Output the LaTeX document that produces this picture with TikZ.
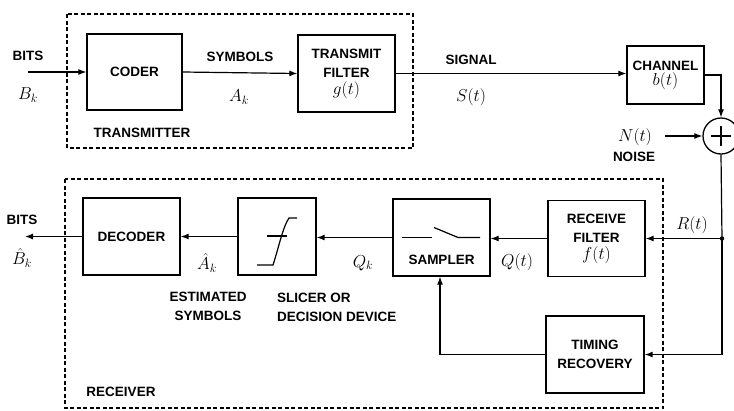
\documentclass[tikz,border=0pt]{standalone}
\usepackage{amsmath}
\usepackage{fontspec}
\newfontfamily\blocksf{Liberation Sans}
\usetikzlibrary{arrows.meta,calc}

\tikzset{
    blk/.style={draw, line width=1.3pt, align=center, inner sep=0pt,
        font=\blocksf\bfseries\fontsize{13.5}{19}\selectfont},
    txt/.style={align=center, inner sep=0pt,
        font=\blocksf\bfseries\fontsize{13.5}{19}\selectfont},
    sym/.style={inner sep=0pt, font=\fontsize{17}{19}\selectfont},
    wire/.style={line width=1.2pt, -{Latex[length=8pt,width=6pt]}},
    grp/.style={line width=1.2pt, dash pattern=on 4pt off 2.5pt},
}

\begin{document}
\begin{tikzpicture}[x=1pt, y=-1pt]
    \useasboundingbox (0,0) rectangle (734,410);

    % Transmitter
    \draw[grp] (67,14) rectangle (413,148);
    \node[blk, minimum width=95pt, minimum height=76pt] (coder) at (134.5,72) {CODER};
    \node[blk, minimum width=97pt, minimum height=77pt] (tf) at (346.5,73.5)
        {TRANSMIT\\FILTER\\[-2pt]{\fontsize{17}{19}\selectfont$g(t)$}};
    \node[txt] (txlbl) at (142,133) {TRANSMITTER};
    \coordinate (bitsin) at (28,72);
    \node[txt] (bitsa) at (28,56) {BITS};
    \node[sym] (bk) at (28,95) {$B_k$};
    \node[txt] (symb) at (240,57) {SYMBOLS};
    \node[sym] (ak) at (239,97) {$A_k$};
    \draw[wire] (bitsin) -- (coder.west);
    \draw[wire] (coder.east) -- (tf.west);

    % Channel and noise
    \node[blk, minimum width=77pt, minimum height=58pt] (chan) at (665.5,75)
        {CHANNEL\\[-4pt]{\fontsize{17}{19}\selectfont$b(t)$}};
    \node[txt] (sig) at (471,60) {SIGNAL};
    \node[sym] (st) at (471,97) {$S(t)$};
    \draw[wire] (tf.east) -- (tf.east -| chan.west);
    \node[draw, circle, line width=1.3pt, minimum size=36pt, inner sep=0pt] (sum) at (721,136) {};
    \draw[line width=1.2pt] ($(sum.center)+(-10,0)$) -- ($(sum.center)+(10,0)$);
    \draw[line width=1.2pt] ($(sum.center)+(0,-10)$) -- ($(sum.center)+(0,10)$);
    \draw[wire] (chan.east) -| (sum.north);
    \coordinate (noisein) at (665,136);
    \node[sym] (nt) at (635,137) {$N(t)$};
    \node[txt] (noise) at (634,157) {NOISE};
    \draw[wire] (noisein) -- (sum.west);

    % Receiver
    \draw[grp] (65,179) rectangle (663,408);
    \node[blk, minimum width=97pt, minimum height=76pt] (rf) at (596.5,238.5)
        {RECEIVE\\FILTER\\[-2pt]{\fontsize{17}{19}\selectfont$f(t)$}};
    \node[blk, minimum width=98pt, minimum height=77pt] (tr) at (595,354.5)
        {TIMING\\RECOVERY};
    \node[blk, minimum width=97pt, minimum height=77pt] (samp) at (441.5,237.5) {};
    \node[txt] (samptxt) at (441.5,260) {SAMPLER};
    \node[blk, minimum width=78pt, minimum height=77pt] (slicer) at (277,236.5) {};
    \node[blk, minimum width=97pt, minimum height=77pt] (dec) at (131.5,236.5) {DECODER};
    \node[txt] (rxlbl) at (121,392) {RECEIVER};

    % switch inside the sampler
    \begin{scope}[shift={(samp.center)}, line width=1.2pt]
        \draw (-39.5,0) -- (-9.5,0);
        \draw (-7.5,-10) -- (16.5,0) -- (38.5,0);
    \end{scope}

    % slicer characteristic
    \begin{scope}[shift={(slicer.center)}, line width=1.2pt]
        \draw (-10,-0.5) -- (10,-0.5);
        \draw (-20,28.5) -- (-4,28.5) .. controls (2,10) and (6,-10) .. (12,-18.5) -- (20,-18.5);
    \end{scope}

    % receiver connections
    \coordinate (rjunc) at (722,238.5);
    \draw[line width=1.2pt] (sum.south) -- (rjunc);
    \fill (rjunc) circle (2.2pt);
    \draw[wire] (rjunc) -- (rf.east);
    \draw[wire] (rjunc) |- (tr.east);
    \draw[wire] (rf.west) -- (rf.west -| samp.east);
    \draw[wire] (samp.west) -- (samp.west -| slicer.east);
    \draw[wire] (slicer.west) -- (slicer.west -| dec.east);
    \coordinate (bitsout) at (25,236.5);
    \draw[wire] (dec.west) -- (bitsout);
    \draw[wire] (tr.west) -| ($(samp.south)+(-1.5,0)$);

    % labels
    \node[sym] (rt) at (692,225) {$R(t)$};
    \node[sym] (qt) at (517,262) {$Q(t)$};
    \node[sym] (qk) at (363,263) {$Q_k$};
    \node[sym] (ahat) at (207,263) {$\hat{A}_k$};
    \node[sym] (bhat) at (22,258) {$\hat{B}_k$};
    \node[txt] (bitsb) at (22,220) {BITS};
    \node[txt] (estsym) at (208,306.5) {ESTIMATED\\SYMBOLS};
    \node[txt, align=left, anchor=west] (slicelbl) at (277,307.5) {SLICER OR\\DECISION DEVICE};
\end{tikzpicture}
\end{document}
